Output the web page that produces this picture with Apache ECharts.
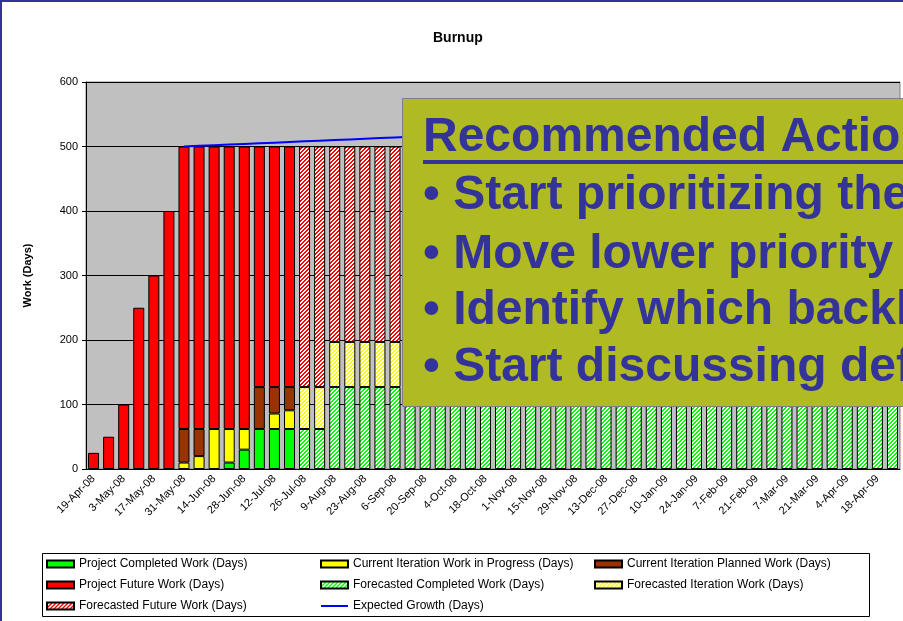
<!DOCTYPE html>
<html>
<head>
<meta charset="utf-8">
<title>Burnup</title>
<script src="https://cdn.jsdelivr.net/npm/echarts@6/dist/echarts.min.js"></script>
<style>
html,body{margin:0;padding:0;background:#fff;}
#chartContent{width:903px;height:621px;}
</style>
</head>
<body>
<div id="chartContent"></div>
<script>
// weekly categories
var weeks = ['19-Apr-08','26-Apr-08','3-May-08','10-May-08','17-May-08','24-May-08','31-May-08','7-Jun-08','14-Jun-08','21-Jun-08',
	'28-Jun-08','5-Jul-08','12-Jul-08','19-Jul-08','26-Jul-08','2-Aug-08','9-Aug-08','16-Aug-08','23-Aug-08','30-Aug-08',
	'6-Sep-08','13-Sep-08','20-Sep-08','27-Sep-08','4-Oct-08','11-Oct-08','18-Oct-08','25-Oct-08','1-Nov-08','8-Nov-08',
	'15-Nov-08','22-Nov-08','29-Nov-08','6-Dec-08','13-Dec-08','20-Dec-08','27-Dec-08','3-Jan-09','10-Jan-09','17-Jan-09',
	'24-Jan-09','31-Jan-09','7-Feb-09','14-Feb-09','21-Feb-09','28-Feb-09','7-Mar-09','14-Mar-09','21-Mar-09','28-Mar-09',
	'4-Apr-09','11-Apr-09','18-Apr-09','25-Apr-09'];

var E = '-';
var completedWork = [E,E,E,E,E,E,E,E,E,10, 30,62,62,62,E,E,E,E,E,E, E,E,E,E,E,E,E,E,E,E, E,E,E,E,E,E,E,E,E,E, E,E,E,E,E,E,E,E,E,E, E,E,E,E];
var wipWork       = [E,E,E,E,E,E,10,20,62,52, 32,E,24,29,E,E,E,E,E,E, E,E,E,E,E,E,E,E,E,E, E,E,E,E,E,E,E,E,E,E, E,E,E,E,E,E,E,E,E,E, E,E,E,E];
var plannedWork   = [E,E,E,E,E,E,52,42,E,E, E,65,41,36,E,E,E,E,E,E, E,E,E,E,E,E,E,E,E,E, E,E,E,E,E,E,E,E,E,E, E,E,E,E,E,E,E,E,E,E, E,E,E,E];
var futureWork    = [25,50,100,250,300,400,438,438,438,438, 438,373,373,373,E,E,E,E,E,E, E,E,E,E,E,E,E,E,E,E, E,E,E,E,E,E,E,E,E,E, E,E,E,E,E,E,E,E,E,E, E,E,E,E];
// forecast (hatched)
var fcCompleted   = [E,E,E,E,E,E,E,E,E,E, E,E,E,E,62,62,127,127,127,127, 127,197,197,197,197,197,267,267,267,267, 267,337,337,337,337,337,407,407,407,407, 407,477,477,477,477,477,500,500,500,500, 500,500,500,500];
var fcIteration   = [E,E,E,E,E,E,E,E,E,E, E,E,E,E,65,65,70,70,70,70, 70,70,70,70,70,70,70,70,70,70, 70,70,70,70,70,70,70,70,70,70, 70,23,23,23,23,23,E,E,E,E, E,E,E,E];
var fcFuture      = [E,E,E,E,E,E,E,E,E,E, E,E,E,E,373,373,303,303,303,303, 303,233,233,233,233,233,163,163,163,163, 163,93,93,93,93,93,23,23,23,23, 23,E,E,E,E,E,E,E,E,E, E,E,E,E];
var growth        = [E,E,E,E,E,E,500,501,502,503, 504,505,506,507,508,509,510,511,512,513, 514,515,516,517,518,519,520,521,522,523, 524,525,526,527,528,529,530,531,532,533, 534,535,536,537,538,539,540,541,542,543, 544,545,546,547];
var yTicks = [0, 100, 200, 300, 400, 500, 600];

var actionTitle = 'Recommended Actions';
var actionLines = ['\u2022 Start prioritizing the backlog', '\u2022 Move lower priority items out', '\u2022 Identify which backlog items can wait', '\u2022 Start discussing deferred scope'];

var FONT = '"Liberation Sans", Arial, sans-serif';

// diagonal hatch pattern
function hatch(color){
	var c = document.createElement('canvas');
	c.width = 4; c.height = 4;
	var ctx = c.getContext('2d');
	ctx.fillStyle = '#ffffff';
	ctx.fillRect(0, 0, 4, 4);
	ctx.fillStyle = color;
	for(var x = 0; x < 4; x++){
		for(var y = 0; y < 4; y++){
			if((x + y) % 4 < 2) ctx.fillRect(x, y, 1, 1);
		}
	}
	return {image: c, repeat: 'repeat'};
}

function barSeries(name, data, color){
	return {
		name: name,
		type: 'bar',
		stack: 'work',
		barWidth: 11,
		data: data,
		itemStyle: {color: color, borderColor: '#000', borderWidth: 1},
		emphasis: {disabled: true},
		animation: false
	};
}

var legendText = {fontSize: 12, fontFamily: FONT, color: '#000'};
function legendCol(left, names){
	return {
		orient: 'vertical', left: left, top: 558, itemWidth: 27, itemHeight: 7,
		itemGap: 9, padding: 0, icon: 'rect', textStyle: legendText, data: names, selectedMode: false
	};
}

var myChart = echarts.init(document.getElementById('chartContent'));
var optionContent = {
	backgroundColor: '#fff',
	animation: false,
	title: {
		text: 'Burnup', left: 428, top: 26,
		textStyle: {fontSize: 14, fontWeight: 'bold', fontFamily: FONT, color: '#000'}
	},
	legend: [
		legendCol(46, ['Project Completed Work (Days)', 'Project Future Work (Days)', 'Forecasted Future Work (Days)']),
		legendCol(320, ['Current Iteration Work in Progress (Days)', 'Forecasted Completed Work (Days)',
			{name: 'Expected Growth (Days)', icon: 'path://M0,0 L27,0 L27,2 L0,2 Z', itemStyle: {color: '#0000FF', borderWidth: 0}}]),
		legendCol(594, ['Current Iteration Planned Work (Days)', 'Forecasted Iteration Work (Days)'])
	],
	grid: {
		left: 86, right: 3, top: 82, bottom: 152,
		show: true, backgroundColor: '#C0C0C0', borderColor: '#808080', borderWidth: 1
	},
	xAxis: {
		type: 'category',
		data: weeks,
		boundaryGap: true,
		axisLine: {lineStyle: {color: '#000', width: 1}},
		axisTick: {interval: 0, alignWithLabel: false, length: 4, lineStyle: {color: '#000'}},
		axisLabel: {interval: 1, rotate: 45, fontSize: 11, fontFamily: FONT, color: '#000', margin: 8}
	},
	yAxis: {
		type: 'value',
		min: yTicks[0], max: yTicks[yTicks.length - 1], interval: 100,
		name: 'Work (Days)', nameLocation: 'middle', nameRotate: 90, nameGap: 53,
		nameTextStyle: {fontSize: 11, fontWeight: 'bold', fontFamily: FONT, color: '#000'},
		axisLine: {show: true, lineStyle: {color: '#000'}},
		axisTick: {show: true, length: 4, lineStyle: {color: '#000'}},
		axisLabel: {fontSize: 11, fontFamily: FONT, color: '#000', margin: 8},
		splitLine: {lineStyle: {color: '#000', width: 1}}
	},
	series: [
		barSeries('Project Completed Work (Days)', completedWork, '#00FF00'),
		barSeries('Forecasted Completed Work (Days)', fcCompleted, hatch('#00FF00')),
		barSeries('Current Iteration Work in Progress (Days)', wipWork, '#FFFF00'),
		barSeries('Forecasted Iteration Work (Days)', fcIteration, hatch('#FFFF00')),
		barSeries('Current Iteration Planned Work (Days)', plannedWork, '#993300'),
		barSeries('Project Future Work (Days)', futureWork, '#FF0000'),
		barSeries('Forecasted Future Work (Days)', fcFuture, hatch('#FF0000')),
		{
			name: 'Expected Growth (Days)',
			type: 'line',
			data: growth,
			symbol: 'none',
			lineStyle: {color: '#0000FF', width: 2},
			itemStyle: {color: '#0000FF'},
			z: 5,
			animation: false
		}
	],
	graphic: [
		// page border (top / left)
		{type: 'rect', z: 200, shape: {x: 0, y: 0, width: 903, height: 2}, style: {fill: '#333399'}},
		{type: 'rect', z: 200, shape: {x: 0, y: 0, width: 2, height: 621}, style: {fill: '#333399'}},
		// legend frame
		{type: 'rect', z: -1, shape: {x: 42.5, y: 553.5, width: 827, height: 63}, style: {fill: '#fff', stroke: '#000', lineWidth: 1}},
		// callout box
		{type: 'rect', z: 100, shape: {x: 402.5, y: 98.5, width: 520, height: 308}, style: {fill: '#B0BA22', stroke: '#7F7F7F', lineWidth: 1}},
		{type: 'text', z: 101, style: {x: 423, y: 114, text: actionTitle, font: 'bold 48px ' + FONT, fill: '#333399'}},
		{type: 'rect', z: 101, shape: {x: 423, y: 160, width: 500, height: 4}, style: {fill: '#333399'}},
		{type: 'text', z: 101, style: {x: 423, y: 172, text: actionLines[0], font: 'bold 48px ' + FONT, fill: '#333399'}},
		{type: 'text', z: 101, style: {x: 423, y: 231, text: actionLines[1], font: 'bold 48px ' + FONT, fill: '#333399'}},
		{type: 'text', z: 101, style: {x: 423, y: 287, text: actionLines[2], font: 'bold 48px ' + FONT, fill: '#333399'}},
		{type: 'text', z: 101, style: {x: 423, y: 344, text: actionLines[3], font: 'bold 48px ' + FONT, fill: '#333399'}}
	]
};
myChart.setOption(optionContent);
</script>
</body>
</html>
